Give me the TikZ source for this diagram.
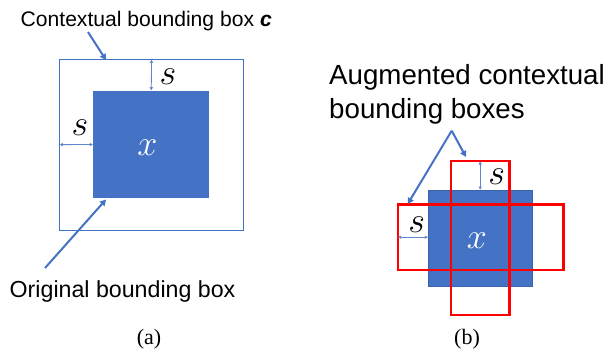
\documentclass[tikz,border=0pt]{standalone}
\usepackage{fontspec}
\setmainfont{Liberation Sans}
\newfontfamily\capfont{Liberation Serif}
\usetikzlibrary{arrows.meta}
\definecolor{obl}{HTML}{4472C4}
\definecolor{obd}{HTML}{3A63AD}
\begin{document}
\begin{tikzpicture}[x=1pt,y=-1pt,
  box/.style={rectangle,inner sep=0pt,outer sep=0pt},
  ctxbox/.style={box,draw=obl,line width=1pt},
  origbox/.style={box,fill=obl},
  origboxb/.style={box,fill=obl,draw=obd,line width=0.6pt},
  redbox/.style={box,draw=red,line width=2.4pt},
  callout/.style={draw=obl,line width=2pt,-{Triangle[length=6pt,width=6.5pt]}},
  dim/.style={draw=obl!85,line width=0.8pt,{Latex[length=3.5pt,width=3.5pt]}-{Latex[length=3.5pt,width=3.5pt]}},
  lbl/.style={inner sep=0pt,anchor=base west},
  sym/.style={inner sep=0pt,scale=1.45,font=\fontsize{24.88}{26}\selectfont},
  captext/.style={inner sep=0pt,font=\capfont\fontsize{22}{24}\selectfont}]
\useasboundingbox (0,0) rectangle (610,349);
% ---------- panel (a)
\node[ctxbox,minimum width=184.4pt,minimum height=170.7pt] (outer) at (151.5,144.65) {};
\node[origbox,minimum width=116pt,minimum height=107.6pt] (inner) at (151.3,144.5) {};
\node[sym,text=white] (xa) at (147.5,148) {$x$};
\draw[dim] (outer.north) -- (inner.north);
\draw[dim] (outer.west) -- (inner.west);
\node[sym] (sa1) at (168,77) {$s$};
\node[sym] (sa2) at (80,128) {$s$};
\node[lbl,font=\fontsize{21.1}{24}\selectfont] (ctxlbl) at (20.5,26.7) {Contextual bounding box \textbf{\textit{c}}};
\node[lbl,font=\fontsize{23.2}{26}\selectfont] (origlbl) at (9.5,297) {Original bounding box};
\coordinate (c1s) at (88,32);
\coordinate (c1e) at (106,60);
\coordinate (c2s) at (45,268);
\coordinate (c2e) at (106,199.5);
\draw[callout] (c1s) -- (c1e);
\draw[callout] (c2s) -- (c2e);
\node[captext] (capa) at (149,339) {(a)};
% ---------- panel (b)
\node[origboxb,minimum width=104pt,minimum height=96pt] (blue) at (480.3,238) {};
\node[redbox,minimum width=58.3pt,minimum height=154pt] (redv) at (480.2,238) {};
\node[redbox,minimum width=165.6pt,minimum height=65.7pt] (redh) at (480.5,237.2) {};
\node[sym,text=white] (xb) at (477,240.3) {$x$};
\draw[dim] (redv.north) -- (redv.north |- blue.north);
\draw[dim] (redh.west) -- (redh.west -| blue.west);
\node[sym] (sb1) at (496.7,177) {$s$};
\node[sym] (sb2) at (416.7,224.5) {$s$};
\node[lbl,font=\fontsize{27.7}{30}\selectfont] (aug1) at (329,84.5) {Augmented contextual};
\node[lbl,font=\fontsize{27.7}{30}\selectfont] (aug2) at (329,118) {bounding boxes};
\coordinate (apex) at (451.7,130.7);
\coordinate (a1e) at (466,157);
\coordinate (a2e) at (407.7,204);
\draw[callout] (apex) -- (a1e);
\draw[callout] (apex) -- (a2e);
\node[captext] (capb) at (467,339) {(b)};
\end{tikzpicture}
\end{document}
